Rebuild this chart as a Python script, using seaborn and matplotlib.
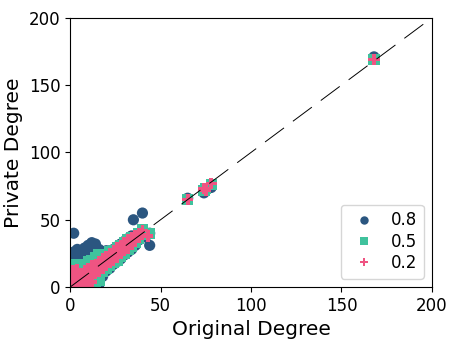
import numpy as np
import pandas as pd
import matplotlib
matplotlib.use("Agg")
import matplotlib.pyplot as plt
import seaborn as sns

# 0.8 - puntos (grado original, grado privado)
x_08 = [0, 0, 0, 0, 0, 0, 0, 0, 0, 2,
        2, 2, 2, 2, 2, 4, 4, 4, 4, 4,
        4, 6, 6, 6, 6, 6, 8, 8, 8, 8,
        8, 10, 10, 10, 10, 10, 10, 12, 12, 12,
        12, 12, 12, 14, 14, 14, 14, 14, 16, 16,
        16, 16, 16, 18, 18, 18, 18, 20, 20, 20,
        20, 22, 22, 22, 24, 24, 24, 26, 26, 26,
        28, 28, 28, 30, 30, 30, 32, 32, 32, 34,
        34, 34, 35, 36, 36, 38, 38, 40, 40, 42,
        44, 44, 65, 74, 75, 78, 78, 168]
y_08 = [0, 3, 6, 9, 12, 15, 18, 22, 25, 40,
        2, 8, 14, 20, 26, 1, 6, 12, 18, 24,
        28, 3, 9, 15, 21, 27, 5, 11, 17, 23,
        29, 4, 8, 14, 20, 26, 31, 6, 12, 18,
        24, 30, 33, 9, 15, 21, 27, 32, 2, 10,
        16, 22, 28, 8, 14, 20, 26, 12, 18, 24,
        27, 14, 20, 26, 17, 22, 28, 19, 24, 30,
        21, 27, 32, 24, 29, 34, 26, 31, 36, 28,
        33, 38, 50, 31, 36, 35, 40, 37, 55, 38,
        31, 40, 66, 70, 73, 74, 76, 171]

# 0.5
x_05 = [0, 0, 0, 0, 0, 2, 2, 2, 2, 2,
        4, 4, 4, 4, 6, 6, 6, 6, 8, 8,
        8, 8, 10, 10, 10, 10, 10, 12, 12, 12,
        12, 12, 14, 14, 14, 14, 14, 16, 16, 16,
        16, 16, 18, 18, 18, 20, 20, 20, 22, 22,
        22, 24, 24, 24, 26, 26, 26, 28, 28, 28,
        30, 30, 30, 32, 32, 32, 34, 34, 34, 36,
        36, 38, 38, 40, 40, 44, 65, 74, 75, 78,
        168]
y_05 = [0, 4, 8, 12, 16, 0, 5, 10, 14, 17,
        0, 4, 9, 14, 1, 6, 11, 16, 2, 7,
        12, 17, 0, 4, 9, 14, 19, 1, 6, 11,
        16, 20, 3, 8, 13, 18, 22, 5, 10, 15,
        20, 24, 12, 17, 22, 14, 19, 24, 16, 21,
        26, 18, 23, 27, 20, 25, 29, 23, 27, 31,
        25, 29, 33, 28, 32, 35, 30, 34, 37, 33,
        37, 36, 40, 39, 43, 40, 65, 72, 73, 76,
        169]

# 0.2
x_02 = [0, 0, 0, 0, 0, 2, 2, 2, 2, 4,
        4, 4, 4, 6, 6, 6, 6, 8, 8, 8,
        8, 10, 10, 10, 10, 12, 12, 12, 12, 14,
        14, 14, 16, 16, 16, 18, 18, 18, 20, 20,
        20, 22, 22, 22, 24, 24, 24, 26, 26, 26,
        28, 28, 28, 30, 30, 30, 32, 32, 32, 34,
        34, 34, 36, 36, 38, 38, 40, 40, 43, 65,
        74, 75, 78, 168]
y_02 = [0, 3, 6, 9, 12, 0, 4, 8, 12, 1,
        5, 9, 13, 0, 2, 6, 10, 1, 4, 8,
        12, 2, 6, 10, 14, 4, 8, 12, 16, 10,
        14, 17, 12, 16, 19, 14, 18, 21, 16, 20,
        23, 18, 22, 25, 20, 24, 27, 22, 26, 29,
        25, 28, 31, 27, 30, 33, 29, 32, 35, 32,
        35, 37, 34, 38, 37, 40, 39, 42, 38, 65,
        73, 72, 77, 169]

niveles = ["0.8", "0.5", "0.2"]
colores = {"0.8": "#2b5680", "0.5": "#40c29d", "0.2": "#ef5482"}
marcadores = {"0.8": "o", "0.5": "s", "0.2": "P"}

df = pd.concat([
    pd.DataFrame({"orig": x_08, "priv": y_08, "eps": "0.8"}),
    pd.DataFrame({"orig": x_05, "priv": y_05, "eps": "0.5"}),
    pd.DataFrame({"orig": x_02, "priv": y_02, "eps": "0.2"}),
], ignore_index=True)

plt.rcParams["lines.scale_dashes"] = False

fig = plt.figure(figsize=(4.58, 3.43), dpi=100)
ax = fig.add_axes([0.153, 0.163, 0.79, 0.785])

sns.scatterplot(data=df, x="orig", y="priv", hue="eps", style="eps",
                hue_order=niveles, style_order=niveles, palette=colores,
                markers=marcadores, s=65, linewidth=0, ax=ax)

ax.plot([0, 200], [0, 200], color="k", lw=0.7, dashes=(17, 8), zorder=5)

ax.set_xlim(0, 200)
ax.set_ylim(0, 200)
ax.set_xticks([0, 50, 100, 150, 200])
ax.set_yticks([0, 50, 100, 150, 200])
ax.tick_params(labelsize=12)
ax.set_xlabel("Original Degree", fontsize=14.5)
ax.set_ylabel("Private Degree", fontsize=14.5)

leg = ax.legend(loc="lower right", fontsize=12, title=None,
                labelspacing=0.2, markerscale=0.75, handletextpad=0.6)

fig.savefig("out.png", dpi=100)
